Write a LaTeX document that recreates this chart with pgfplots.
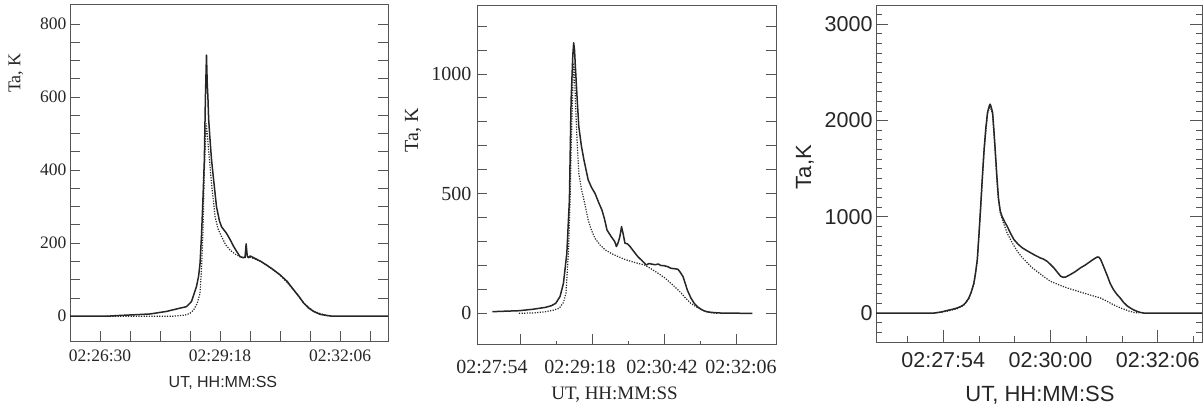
\documentclass[border=0pt]{standalone}
\usepackage{fontspec}
\setmainfont{Liberation Serif}
\setsansfont{Liberation Sans}
\usepackage{pgfplots}
\pgfplotsset{compat=1.18}
\definecolor{ink}{HTML}{262626}
\definecolor{axc}{HTML}{555555}
\pgfplotsset{
  base/.style={scale only axis, anchor=south west,
    axis line style={axc, line width=0.9pt},
    tick style={axc, line width=0.8pt},
    tick align=inside, xtick pos=lower, ytick pos=both,
    /pgf/number format/assume math mode=true,
    /pgf/number format/1000 sep={},
    ticklabel style={text=ink},
    label style={text=ink},
    clip=true},
  sol/.style={ink, line width=1.5pt, line join=round, mark=none},
  dot/.style={ink, line width=1.2pt, dash pattern=on 1.2pt off 1.4pt, mark=none},
}
\begin{document}
\begin{tikzpicture}
\path[use as bounding box] (0,0) rectangle (1203pt,409pt);
% ---------------- Panel 1
\begin{axis}[base, at={(70pt,68pt)}, width=318pt, height=337pt,
  xmin=1548, xmax=1993, ymin=-68, ymax=855,
  xtick={1590,1758,1926}, xticklabels={02:26:30,02:29:18,02:32:06},
  minor xtick={1632,1674,1716,1800,1842,1884,1968},
  ytick={0,200,400,600,800}, minor ytick={50,100,150,250,300,350,450,500,550,650,700,750},
  major tick length=10pt, minor tick length=10pt,
  xticklabel style={font=\fontsize{17.5}{17.5}\selectfont, yshift=-5pt},
  yticklabel style={font=\fontsize{17.5}{17.5}\selectfont},
  xlabel={UT, HH:MM:SS}, ylabel={Ta, K},
  xlabel style={font=\sffamily\fontsize{16}{16}\selectfont, at={(axis description cs:0.481,-0.125)}, anchor=center},
  ylabel style={font=\fontsize{18}{18}\selectfont, at={(axis description cs:-0.17,0.795)}, anchor=center},
]
\addplot[sol] coordinates {
(1548,0) (1600,0) (1618,2) (1640,4) (1660,6) (1683,13) (1702,22) (1711,26) (1718,40) (1725,81)
(1728,110) (1730,145) (1732,220) (1734,318) (1736,428) (1737.5,600) (1739,715) (1740,640) (1741,600)
(1742,540) (1744,482) (1746,430) (1749,373) (1753,300) (1757,262) (1760,245) (1767,227) (1772,210)
(1777,191) (1781,178) (1786,163) (1791,160) (1793,163) (1794.5,198) (1796,165) (1798,160) (1800,165)
(1805,160) (1815,150)
(1823,140) (1832,128) (1842,113) (1852,95) (1861,72) (1868,55) (1875,36) (1882,22) (1889,13)
(1898,5) (1907,2) (1915,0) (1993,0)};
\addplot[dot] coordinates {
(1600,0) (1693,0) (1705,2) (1711,4) (1716,8) (1721,17) (1726,35) (1730,63) (1732,130) (1734,227)
(1736,400) (1738.5,528) (1740,500) (1742,455) (1746,364) (1751,273) (1755,240) (1760,218) (1766,195)
(1772,181) (1779,170) (1786,163) (1791,160) (1800,162) (1815,150) (1823,140)
(1842,113) (1861,72) (1875,36) (1889,13) (1907,2) (1915,0)};
\end{axis}
% ---------------- Panel 2
\begin{axis}[base, at={(477pt,65pt)}, width=299pt, height=339pt,
  xmin=1622.9, xmax=1972.7, ymin=-128, ymax=1288,
  xtick={1674,1758,1842,1926}, xticklabels={},
  minor xtick={1716,1800,1884},
  extra x ticks={1640.4,1743.4,1839.3,1931.8},
  extra x tick labels={02:27:54,02:29:18,02:30:42,02:32:06},
  extra x tick style={major tick length=0pt},
  ytick={0,100,...,1200}, yticklabels={0,{},{},{},{},500,{},{},{},{},1000,{},{}},
  major tick length=10pt, minor tick length=2.5pt,
  xticklabel style={font=\fontsize{20}{20}\selectfont, yshift=-13pt},
  yticklabel style={font=\fontsize{20}{20}\selectfont, xshift=-2pt},
  xlabel={UT, HH:MM:SS}, ylabel={Ta, K},
  xlabel style={font=\fontsize{19}{19}\selectfont, at={(axis description cs:0.46,-0.15)}, anchor=center},
  ylabel style={font=\fontsize{20}{20}\selectfont, at={(axis description cs:-0.214,0.631)}, anchor=center},
]
\addplot[sol] coordinates {
(1641,7) (1656,9) (1672,11) (1688,17) (1703,25) (1710,32) (1715,42) (1720,70) (1724,125) (1728,251)
(1731,474) (1733,891) (1735,1080) (1736,1130) (1737,1100) (1738,1031) (1740,900) (1742,780) (1745,700)
(1748,641) (1753,557) (1757,525) (1761,501) (1765,465) (1769,432) (1772,395) (1775,348) (1780,320)
(1784,300) (1786,279) (1788,295) (1790,320) (1792,362) (1794,330) (1796,293) (1799,290) (1802,279)
(1806,260) (1811,237) (1816,220) (1821,202) (1824,208) (1827,206) (1831,203) (1835,206) (1838,200)
(1842,199) (1846,195) (1850,188) (1855,186) (1858,184) (1861,170) (1864,153) (1869,97) (1873,65)
(1877,42) (1881,27) (1885,17) (1889,10) (1893,6) (1900,3) (1910,1) (1945,0)};
\addplot[dot] coordinates {
(1672,0) (1690,2) (1703,7) (1712,13) (1719,21) (1724,45) (1727,84) (1730,265) (1732,500) (1733,682)
(1735,950) (1736,1045) (1737,1000) (1738,891) (1740,720) (1742,585) (1745,520) (1748,474) (1753,390)
(1757,345) (1761,313) (1767,285) (1773,265) (1780,250) (1788,237) (1796,225) (1804,216) (1812,208)
(1819,202) (1827,185) (1835,167) (1843,147) (1850,125) (1856,105) (1862,84) (1867,63) (1873,42)
(1879,28) (1885,17) (1890,8) (1896,3) (1905,0)};
\end{axis}
% ---------------- Panel 3
\begin{axis}[base, at={(876pt,67pt)}, width=326pt, height=337pt,
  xmin=1595, xmax=1978, ymin=-300, ymax=3200,
  xtick={1674,1800,1926}, xticklabels={02:27:54,02:30:00,02:32:06},
  minor xtick={1632,1716,1758,1842,1884,1968},
  ytick={0,1000,2000,3000}, minor ytick={-200,-100,...,3100},
  major tick length=12pt, minor tick length=6pt,
  xticklabel style={font=\sffamily\fontsize{21.5}{21.5}\selectfont, yshift=-7pt},
  yticklabel style={font=\sffamily\fontsize{21.5}{21.5}\selectfont},
  xlabel={UT, HH:MM:SS}, ylabel={Ta,K},
  xlabel style={font=\sffamily\fontsize{22}{22}\selectfont, at={(axis description cs:0.503,-0.157)}, anchor=center},
  ylabel style={font=\sffamily\fontsize{22}{22}\selectfont, at={(axis description cs:-0.218,0.519)}, anchor=center},
]
\addplot[sol] coordinates {
(1595,0) (1663,0) (1672,12) (1679,28) (1685,40) (1690,52) (1695,70) (1698,87) (1701,115) (1704,156)
(1707,220) (1710,312) (1712,420) (1714,556) (1716,820) (1718,1111) (1720,1420) (1722,1701) (1724,1920)
(1726,2083) (1728,2150) (1729,2170) (1730,2150) (1732,2083) (1733.5,1900) (1735,1701) (1737,1420)
(1739,1180) (1741,1060) (1743,1007) (1746,950) (1749,903) (1753,830) (1757,764) (1762,715) (1767,677)
(1772,650) (1777,625) (1782,600) (1788,573) (1792,560) (1796,538) (1800,505) (1804,469) (1808,425)
(1812,382) (1815,372) (1818,375) (1823,399) (1829,430) (1835,469) (1841,500) (1847,538) (1851,562)
(1855,583) (1857,580) (1859,556) (1863,470) (1867,382) (1870,310) (1874,243) (1878,195) (1882,156)
(1886,110) (1890,75) (1894,52) (1898,32) (1902,17) (1906,6) (1910,0) (1978,0)};
\addplot[dot] coordinates {
(1663,0) (1679,20) (1690,45) (1698,80) (1704,150) (1710,300) (1714,540) (1718,1100) (1722,1690)
(1726,2070) (1729,2150) (1732,2060) (1735,1680) (1738,1250) (1741,1042) (1745,930) (1749,833)
(1755,730) (1761,642) (1767,575) (1773,521) (1778,475) (1784,434) (1792,380) (1800,330) (1810,293)
(1820,260) (1830,233) (1839,208) (1849,182) (1859,156) (1866,125) (1874,87) (1880,62) (1886,42)
(1892,22) (1898,7) (1904,0)};
\end{axis}
\end{tikzpicture}
\end{document}
